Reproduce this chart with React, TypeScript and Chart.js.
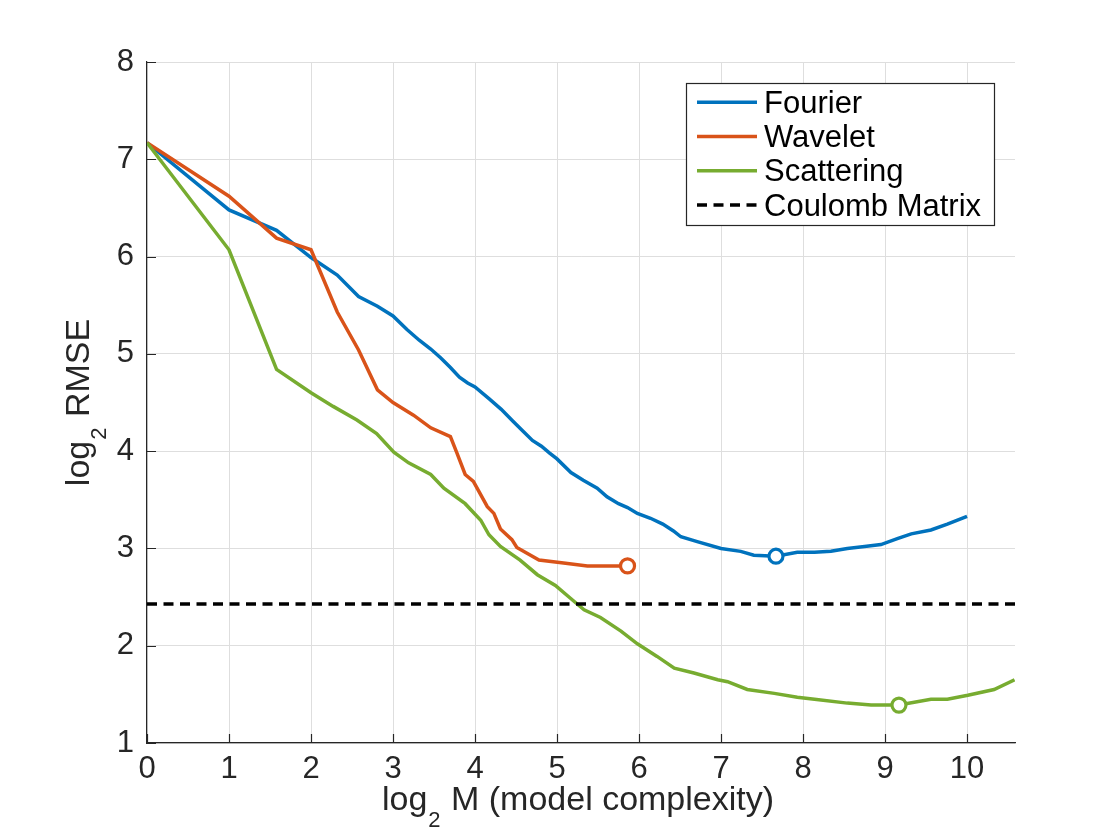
import React, { useEffect, useRef } from "react";
import { Chart, registerables, Plugin } from "chart.js";

Chart.register(...registerables);

// log2 M positions and log2 RMSE values
const fourierX = [0, 1, 1.58, 2, 2.32, 2.58, 2.81, 3, 3.17, 3.32, 3.46, 3.58, 3.7, 3.81, 3.91, 4, 4.17, 4.32, 4.46, 4.58, 4.7, 4.81, 4.91, 5, 5.17, 5.32, 5.49, 5.61, 5.75, 5.86, 5.98, 6.14, 6.29, 6.42, 6.51, 6.71, 7.0, 7.24, 7.4, 7.67, 7.93, 8.14, 8.34, 8.54, 8.75, 8.95, 9.15, 9.32, 9.56, 9.76, 10];
const fourierY = [7.17, 6.48, 6.27, 5.99, 5.81, 5.59, 5.49, 5.39, 5.25, 5.14, 5.05, 4.96, 4.86, 4.76, 4.7, 4.66, 4.54, 4.43, 4.31, 4.21, 4.11, 4.05, 3.98, 3.92, 3.78, 3.7, 3.62, 3.53, 3.46, 3.42, 3.36, 3.31, 3.25, 3.18, 3.12, 3.07, 3.0, 2.97, 2.93, 2.92, 2.96, 2.96, 2.97, 3.0, 3.02, 3.04, 3.1, 3.15, 3.19, 3.25, 3.33];

const waveletX = [0, 1, 1.58, 2, 2.32, 2.58, 2.81, 3, 3.25, 3.46, 3.7, 3.78, 3.88, 3.98, 4.15, 4.23, 4.31, 4.45, 4.51, 4.78, 5.08, 5.37, 5.86];
const waveletY = [7.17, 6.62, 6.19, 6.07, 5.43, 5.04, 4.63, 4.5, 4.37, 4.24, 4.15, 3.98, 3.76, 3.69, 3.43, 3.36, 3.2, 3.09, 3.01, 2.88, 2.85, 2.82, 2.82];

const scatteringX = [0, 1, 1.58, 2, 2.27, 2.56, 2.8, 3.01, 3.19, 3.46, 3.62, 3.88, 4.07, 4.17, 4.31, 4.55, 4.76, 4.98, 5.16, 5.33, 5.53, 5.78, 5.98, 6.22, 6.43, 6.67, 6.96, 7.08, 7.32, 7.65, 7.93, 8.14, 8.54, 8.83, 9.17, 9.56, 9.76, 10.01, 10.33, 10.58];
const scatteringY = [7.17, 6.07, 4.84, 4.6, 4.46, 4.32, 4.18, 3.99, 3.88, 3.76, 3.62, 3.46, 3.29, 3.14, 3.02, 2.88, 2.73, 2.62, 2.49, 2.37, 2.29, 2.15, 2.02, 1.89, 1.77, 1.72, 1.65, 1.63, 1.55, 1.51, 1.47, 1.45, 1.41, 1.39, 1.39, 1.45, 1.45, 1.49, 1.55, 1.65];

const coulombX = [0, 10.585];
const coulombY = [2.43, 2.43];

// best model per method (open circles)
const bestFourier = { x: 7.67, y: 2.92 };
const bestWavelet = { x: 5.86, y: 2.82 };
const bestScattering = { x: 9.17, y: 1.39 };

const seriesLabels = ["Fourier", "Wavelet", "Scattering", "Coulomb Matrix"];
const seriesColors = ["#0072BD", "#D95319", "#77AC30", "#000000"];

const X_MIN = 0;
const X_MAX = 10.585;
const Y_MIN = 1;
const Y_MAX = 8;

const AXIS_COLOR = "#262626";
const FONT = "'Liberation Sans', Arial, Helvetica, sans-serif";

const zip = (xs: number[], ys: number[]) => xs.map((x, i) => ({ x, y: ys[i] }));

// text with a "2" subscript after "log"
function drawLog2Label(ctx: CanvasRenderingContext2D, rest: string, cx: number, cy: number) {
  const main = `34px ${FONT}`;
  const sub = `22px ${FONT}`;
  ctx.font = main;
  const wLog = ctx.measureText("log").width;
  const wRest = ctx.measureText(rest).width;
  ctx.font = sub;
  const wSub = ctx.measureText("2").width + 2;
  const total = wLog + wSub + wRest;
  let x = cx - total / 2;
  ctx.textAlign = "left";
  ctx.textBaseline = "alphabetic";
  ctx.font = main;
  ctx.fillText("log", x, cy);
  x += wLog + 1;
  ctx.font = sub;
  ctx.fillText("2", x, cy + 17);
  x += wSub - 1;
  ctx.font = main;
  ctx.fillText(rest, x, cy);
}

const decorations: Plugin<"line"> = {
  id: "decorations",
  afterDraw(chart) {
    const { ctx, chartArea, scales } = chart;
    const xs = scales.x;
    const ys = scales.y;
    ctx.save();

    // inward tick marks
    ctx.strokeStyle = AXIS_COLOR;
    ctx.lineWidth = 1.2;
    ctx.beginPath();
    xs.ticks.forEach((t) => {
      const px = Math.round(xs.getPixelForValue(t.value)) + 0.5;
      ctx.moveTo(px, chartArea.bottom);
      ctx.lineTo(px, chartArea.bottom - 9);
    });
    ys.ticks.forEach((t) => {
      const py = Math.round(ys.getPixelForValue(t.value)) + 0.5;
      ctx.moveTo(chartArea.left, py);
      ctx.lineTo(chartArea.left + 9, py);
    });
    ctx.stroke();

    // axis titles
    ctx.fillStyle = AXIS_COLOR;
    drawLog2Label(ctx, " M (model complexity)", (chartArea.left + chartArea.right) / 2 - 3, 810);
    ctx.save();
    ctx.translate(89, (chartArea.top + chartArea.bottom) / 2);
    ctx.rotate(-Math.PI / 2);
    drawLog2Label(ctx, " RMSE", 0, 0);
    ctx.restore();

    // legend box
    const bx = 686.5;
    const by = 83.5;
    const bw = 308;
    const bh = 142;
    ctx.fillStyle = "#ffffff";
    ctx.fillRect(bx, by, bw, bh);
    ctx.strokeStyle = AXIS_COLOR;
    ctx.lineWidth = 1.2;
    ctx.strokeRect(bx, by, bw, bh);

    ctx.font = `31px ${FONT}`;
    ctx.textAlign = "left";
    ctx.textBaseline = "alphabetic";
    const items = chart.data.datasets.filter((d) => d.label);
    items.forEach((d, i) => {
      const base = 112.7 + i * 34.3;
      const ly = base - 10.5;
      ctx.save();
      ctx.strokeStyle = d.borderColor as string;
      ctx.lineWidth = (d.borderWidth as number) || 3;
      ctx.setLineDash(((d as any).borderDash as number[]) || []);
      ctx.beginPath();
      ctx.moveTo(697, ly);
      ctx.lineTo(757, ly);
      ctx.stroke();
      ctx.restore();
      ctx.fillStyle = "#000000";
      ctx.fillText(d.label as string, 764, base);
    });

    ctx.restore();
  },
};

const App: React.FC = () => {
  const canvasRef = useRef<HTMLCanvasElement>(null);
  const chartRef = useRef<Chart<"line">>();

  useEffect(() => {
    if (!canvasRef.current) return;
    if (chartRef.current) chartRef.current.destroy();

    const lineSet = (i: number, xs: number[], ys: number[], extra: object = {}) => ({
      label: seriesLabels[i],
      data: zip(xs, ys),
      borderColor: seriesColors[i],
      backgroundColor: seriesColors[i],
      borderWidth: 3.5,
      pointRadius: 0,
      tension: 0,
      fill: false,
      order: 10 - i,
      ...extra,
    });

    const markerSet = (i: number, p: { x: number; y: number }) => ({
      label: "",
      data: [p],
      showLine: false,
      borderColor: seriesColors[i],
      backgroundColor: "#ffffff",
      pointRadius: 7,
      pointBorderWidth: 3.2,
      pointStyle: "circle" as const,
      order: 0,
    });

    chartRef.current = new Chart(canvasRef.current, {
      type: "line",
      data: {
        datasets: [
          lineSet(0, fourierX, fourierY),
          lineSet(1, waveletX, waveletY),
          lineSet(2, scatteringX, scatteringY),
          lineSet(3, coulombX, coulombY, { borderDash: [10, 6.5], borderWidth: 3.5 }),
          markerSet(0, bestFourier),
          markerSet(1, bestWavelet),
          markerSet(2, bestScattering),
        ] as any,
      },
      options: {
        animation: false,
        responsive: true,
        maintainAspectRatio: false,
        devicePixelRatio: 1,
        layout: { padding: { left: 0, top: 62, right: 105, bottom: 0 } },
        plugins: {
          legend: { display: false },
          tooltip: { enabled: false },
          title: { display: false },
        },
        scales: {
          x: {
            type: "linear",
            min: X_MIN,
            max: X_MAX,
            ticks: {
              stepSize: 1,
              includeBounds: false,
              autoSkip: false,
              maxRotation: 0,
              padding: 8,
              color: AXIS_COLOR,
              font: { family: FONT, size: 31 },
            },
            grid: { color: "#dedede", lineWidth: 1, drawTicks: false },
            border: { display: true, color: AXIS_COLOR, width: 1.2 },
            afterFit: (s: any) => {
              s.height = 97;
            },
          },
          y: {
            type: "linear",
            min: Y_MIN,
            max: Y_MAX,
            ticks: {
              stepSize: 1,
              autoSkip: false,
              padding: 13,
              color: AXIS_COLOR,
              font: { family: FONT, size: 31 },
            },
            grid: { color: "#dedede", lineWidth: 1, drawTicks: false },
            border: { display: true, color: AXIS_COLOR, width: 1.2 },
            afterFit: (s: any) => {
              s.width = 147;
            },
          },
        },
      },
      plugins: [decorations],
    });

    return () => {
      if (chartRef.current) {
        chartRef.current.destroy();
        chartRef.current = undefined;
      }
    };
  }, []);

  return (
    <div style={{ position: "fixed", left: 0, top: 0, width: 1120, height: 840, background: "#ffffff" }}>
      <canvas ref={canvasRef}></canvas>
    </div>
  );
};

export default App;
